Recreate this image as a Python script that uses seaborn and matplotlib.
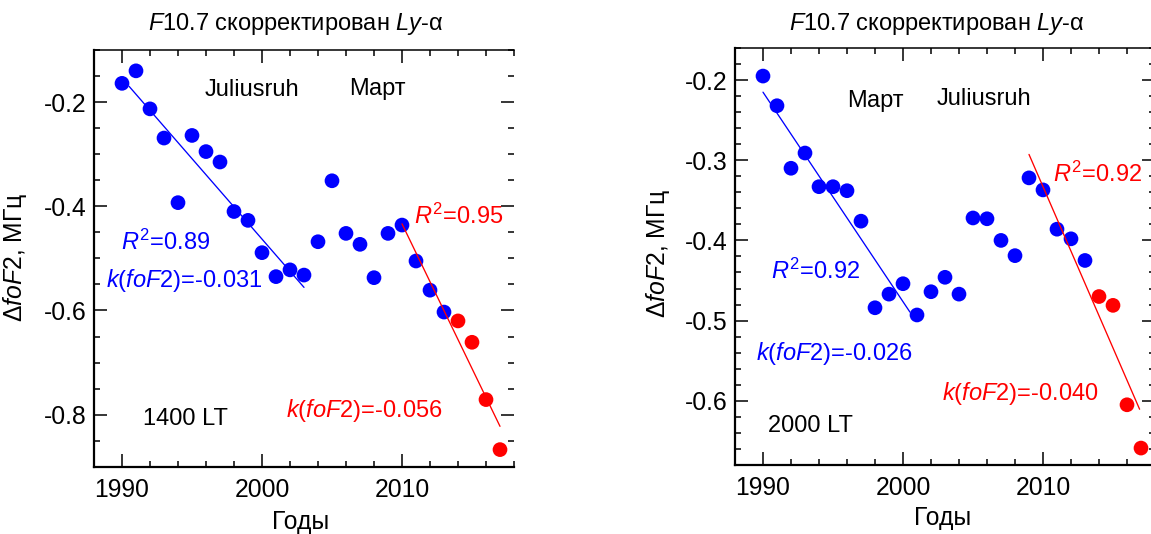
import numpy as np
import pandas as pd
import matplotlib
matplotlib.use("Agg")
import matplotlib.pyplot as plt
from matplotlib.ticker import MultipleLocator, FuncFormatter
import seaborn as sns

# ---------------- data ----------------
years = list(range(1990, 2018))
left_values = [-0.164, -0.140, -0.213, -0.269, -0.393, -0.264, -0.295, -0.315,
               -0.410, -0.427, -0.489, -0.535, -0.522, -0.532, -0.468, -0.351,
               -0.452, -0.473, -0.537, -0.452, -0.436, -0.505, -0.561, -0.603,
               -0.620, -0.661, -0.771, -0.867]
right_values = [-0.195, -0.232, -0.310, -0.291, -0.333, -0.333, -0.338, -0.376,
                -0.484, -0.467, -0.454, -0.493, -0.464, -0.446, -0.467, -0.372,
                -0.373, -0.400, -0.419, -0.322, -0.337, -0.386, -0.398, -0.425,
                -0.470, -0.481, -0.605, -0.659]
red_years = [2014, 2015, 2016, 2017]

# fit intervals (years used for the fit) and drawn extent of each fit line
left_fit_blue_years = (1990, 2003)
left_fit_blue_span = (1990.5, 2003.0)
left_fit_red_years = (2010, 2017)
left_fit_red_span = (2010.0, 2017.0)
right_fit_blue_years = (1990, 2001)
right_fit_blue_span = (1990.0, 2000.5)
right_fit_red_years = (2009, 2017)
right_fit_red_span = (2009.0, 2016.9)

title_text = r"$\mathit{F}$10.7 скорректирован $\mathit{Ly}$-α"
ylabel_text = r"Δ$\mathit{foF}$2, МГц"
xlabel_text = "Годы"
station = "Juliusruh"
month = "Март"
left_lt = "1400 LT"
right_lt = "2000 LT"
left_r2_blue = r"$\mathit{R}^{2}$=0.89"
left_k_blue = r"$\mathit{k}$($\mathit{foF}$2)=-0.031"
left_r2_red = r"$\mathit{R}^{2}$=0.95"
left_k_red = r"$\mathit{k}$($\mathit{foF}$2)=-0.056"
right_r2_blue = r"$\mathit{R}^{2}$=0.92"
right_k_blue = r"$\mathit{k}$($\mathit{foF}$2)=-0.026"
right_r2_red = r"$\mathit{R}^{2}$=0.92"
right_k_red = r"$\mathit{k}$($\mathit{foF}$2)=-0.040"

BLUE = "#0000ff"
RED = "#ff0000"

# ---------------- style ----------------
sns.set_style("ticks")
plt.rcParams["font.family"] = ["Liberation Sans", "DejaVu Sans"]
plt.rcParams["mathtext.fontset"] = "custom"
plt.rcParams["mathtext.rm"] = "Liberation Sans"
plt.rcParams["mathtext.it"] = "Liberation Sans:italic"
plt.rcParams["mathtext.bf"] = "Liberation Sans:bold"
plt.rcParams["axes.unicode_minus"] = False
plt.rcParams["text.color"] = "black"
plt.rcParams["axes.labelcolor"] = "black"
plt.rcParams["xtick.color"] = "black"
plt.rcParams["ytick.color"] = "black"
plt.rcParams["axes.edgecolor"] = "black"

W, H = 1151, 534
fig = plt.figure(figsize=(W / 100, H / 100), dpi=100)

FS_TEXT = 17
FS_TICK = 17.8
FS_LABEL = 17.8
FS_TITLE = 17


def box(x0, top, w, h):
    return [x0 / W, 1 - (top + h) / H, w / W, h / H]


def frac(b, px, py):
    x0, top, w, h = b
    return (px - x0) / w, (top + h - py) / h


def make_df(vals):
    grp = ["red" if y in red_years else "blue" for y in years]
    return pd.DataFrame({"year": years, "value": vals, "group": grp})


def fit_df(vals, fit_years, span):
    x = np.array(years, dtype=float)
    v = np.array(vals, dtype=float)
    m = (x >= fit_years[0]) & (x <= fit_years[1])
    k, b = np.polyfit(x[m], v[m], 1)
    xs = np.array(span, dtype=float)
    return pd.DataFrame({"year": xs, "value": k * xs + b})


def draw_panel(b, vals, fits, ylim, ymaj, ymin, texts, title_px, ylab_px, xlab_px):
    ax = fig.add_axes(box(*b))
    df = make_df(vals)
    sns.scatterplot(data=df, x="year", y="value", hue="group",
                    palette={"blue": BLUE, "red": RED}, s=112, linewidth=0,
                    legend=False, ax=ax, zorder=2)
    for fdf, col in fits:
        sns.lineplot(data=fdf, x="year", y="value", color=col, lw=0.95,
                     ax=ax, zorder=3)
    ax.set_xlim(1988, 2018)
    ax.set_ylim(*ylim)
    ax.xaxis.set_major_locator(MultipleLocator(10))
    ax.xaxis.set_minor_locator(MultipleLocator(2))
    ax.yaxis.set_major_locator(MultipleLocator(ymaj))
    ax.yaxis.set_minor_locator(MultipleLocator(ymin))
    ax.yaxis.set_major_formatter(FuncFormatter(lambda v, p: f"{v:.1f}"))
    ax.xaxis.set_major_formatter(FuncFormatter(lambda v, p: f"{v:.0f}"))
    ax.tick_params(which="both", direction="in", top=True, right=True,
                   colors="black", width=1.1)
    ax.tick_params(which="major", length=9.5)
    ax.tick_params(which="minor", length=4.5)
    ax.tick_params(axis="x", which="major", pad=8, labelsize=FS_TICK)
    ax.tick_params(axis="y", which="major", pad=5.5, labelsize=FS_TICK)
    for s in ["left", "bottom"]:
        ax.spines[s].set_linewidth(1.6)
        ax.spines[s].set_color("black")
    ax.spines["top"].set_linewidth(1.1)
    ax.spines["top"].set_color("black")
    ax.spines["right"].set_visible(False)

    ax.set_xlabel(xlabel_text, fontsize=FS_LABEL, color="black")
    ax.set_ylabel(ylabel_text, fontsize=FS_LABEL, color="black")
    ax.xaxis.set_label_coords(*frac(b, *xlab_px))
    ax.yaxis.set_label_coords(*frac(b, *ylab_px))

    for txt, px, py, ha, col in texts:
        fx, fy = frac(b, px, py)
        ax.text(fx, fy, txt, transform=ax.transAxes, ha=ha, va="baseline",
                fontsize=FS_TEXT, color=col)
    fig.text(title_px[0] / W, 1 - title_px[1] / H, title_text, ha="center",
             va="baseline", fontsize=FS_TITLE, color="black")
    return ax


left_box = (94, 50, 420, 416.8)
right_box = (735, 48, 420, 416.9)

draw_panel(
    left_box, left_values,
    [(fit_df(left_values, left_fit_blue_years, left_fit_blue_span), BLUE),
     (fit_df(left_values, left_fit_red_years, left_fit_red_span), RED)],
    (-0.9, -0.1), 0.2, 0.05,
    [(station, 252, 96, "center", "black"),
     (month, 377, 95, "center", "black"),
     (left_r2_blue, 120.7, 250, "left", BLUE),
     (left_k_blue, 105.7, 287.5, "left", BLUE),
     (left_r2_red, 414, 224, "left", RED),
     (left_k_red, 286, 416.5, "left", RED),
     (left_lt, 142.7, 425, "left", "black")],
    (295.3, 30), (29.5, 257.5), (300.8, 510),
)

draw_panel(
    right_box, right_values,
    [(fit_df(right_values, right_fit_blue_years, right_fit_blue_span), BLUE),
     (fit_df(right_values, right_fit_red_years, right_fit_red_span), RED)],
    (-0.68, -0.16), 0.1, 0.02,
    [(month, 875.8, 106.5, "center", "black"),
     (station, 984.2, 105, "center", "black"),
     (right_r2_blue, 770.7, 279, "left", BLUE),
     (right_k_blue, 755.7, 360, "left", BLUE),
     (right_r2_red, 1053.3, 181.5, "left", RED),
     (right_k_red, 942.3, 400, "left", RED),
     (right_lt, 768.3, 431.5, "left", "black")],
    (937.2, 30), (671.7, 253.3), (942.5, 506.5),
)

fig.savefig("out.png", dpi=100)
